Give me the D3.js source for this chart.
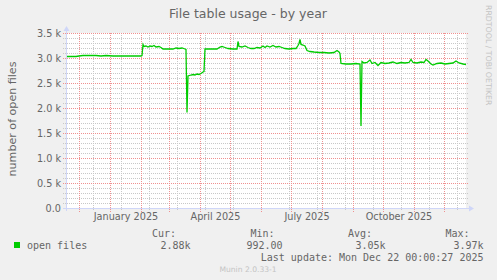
<!DOCTYPE html>
<html>
<head>
<meta charset="utf-8">
<script src="https://cdn.jsdelivr.net/npm/d3@7"></script>
<style>
  html, body { margin: 0; padding: 0; background: #f0f0f0; }
  svg { display: block; }
  text { font-family: "DejaVu Sans", sans-serif; fill: #666666; }
  .mono { font-family: "DejaVu Sans Mono", monospace; font-size: 10px; }
</style>
</head>
<body>
<div id="chart"></div>
<script>
// open files, sampled off the munin yearly graph
const dates = [
  "2024-11-18", "2024-11-27", "2024-11-30", "2024-12-04", "2024-12-12", "2024-12-17", "2024-12-22", "2024-12-27",
  "2025-01-03", "2025-01-11", "2025-01-21", "2025-01-31", "2025-02-01", "2025-02-02", "2025-02-03", "2025-02-05",
  "2025-02-07", "2025-02-09", "2025-02-11", "2025-02-13", "2025-02-15", "2025-02-18", "2025-02-20", "2025-02-22",
  "2025-02-28", "2025-03-04", "2025-03-07", "2025-03-10", "2025-03-13", "2025-03-16", "2025-03-17", "2025-03-18",
  "2025-03-19", "2025-03-22", "2025-03-24", "2025-03-26", "2025-03-28", "2025-03-30", "2025-04-01", "2025-04-03",
  "2025-04-04", "2025-04-05", "2025-04-11", "2025-04-17", "2025-04-20", "2025-04-22", "2025-04-25", "2025-04-28",
  "2025-05-03", "2025-05-07", "2025-05-08", "2025-05-09", "2025-05-12", "2025-05-15", "2025-05-18", "2025-05-21",
  "2025-05-24", "2025-05-27", "2025-05-30", "2025-06-02", "2025-06-04", "2025-06-06", "2025-06-09", "2025-06-12",
  "2025-06-15", "2025-06-18", "2025-06-21", "2025-06-24", "2025-06-28", "2025-07-02", "2025-07-05", "2025-07-07",
  "2025-07-08", "2025-07-09", "2025-07-10", "2025-07-12", "2025-07-14", "2025-07-16", "2025-07-19", "2025-07-23",
  "2025-07-28", "2025-08-02", "2025-08-07", "2025-08-12", "2025-08-15", "2025-08-17", "2025-08-18", "2025-08-19",
  "2025-08-24", "2025-08-29", "2025-09-03", "2025-09-07", "2025-09-08", "2025-09-09", "2025-09-11", "2025-09-14",
  "2025-09-17", "2025-09-19", "2025-09-22", "2025-09-25", "2025-09-28", "2025-10-02", "2025-10-06", "2025-10-10",
  "2025-10-14", "2025-10-18", "2025-10-22", "2025-10-26", "2025-10-28", "2025-10-30", "2025-11-03", "2025-11-07",
  "2025-11-10", "2025-11-12", "2025-11-14", "2025-11-17", "2025-11-19", "2025-11-23", "2025-11-27", "2025-12-01",
  "2025-12-05", "2025-12-09", "2025-12-12", "2025-12-15", "2025-12-19", "2025-12-22"
];
const openFiles = [
  3040, 3040, 3050, 3060, 3060, 3060, 3050, 3060,
  3050, 3050, 3050, 3050, 3060, 3280, 3240, 3250,
  3230, 3250, 3240, 3260, 3230, 3240, 3220, 3190,
  3190, 3190, 3210, 3200, 3210, 3190, 3180, 1920,
  2650, 2670, 2680, 2670, 2690, 2680, 2700, 2730,
  2740, 3190, 3190, 3190, 3230, 3240, 3220, 3200,
  3190, 3190, 3340, 3240, 3230, 3250, 3220, 3200,
  3200, 3220, 3210, 3250, 3220, 3250, 3230, 3260,
  3230, 3240, 3220, 3200, 3190, 3200, 3200, 3260,
  3300, 3380, 3280, 3270, 3250, 3160, 3140, 3130,
  3120, 3120, 3110, 3120, 3160, 3130, 3100, 2900,
  2890, 2890, 2900, 2890, 1650, 2940, 2910, 2920,
  2970, 2900, 2920, 2860, 2920, 2900, 2910, 2930,
  2900, 2920, 2910, 2920, 2980, 2920, 2910, 2930,
  2920, 2980, 2950, 2890, 2870, 2900, 2910, 2890,
  2900, 2910, 2950, 2910, 2890, 2880
];

const yTickValues = [0, 500, 1000, 1500, 2000, 2500, 3000, 3500];
const yTickLabels = ["0.0", "0.5 k", "1.0 k", "1.5 k", "2.0 k", "2.5 k", "3.0 k", "3.5 k"];
const quarterMonths = ["2025-01-01", "2025-04-01", "2025-07-01", "2025-10-01"];
const legendHeads = ["Cur:", "Min:", "Avg:", "Max:"];
const legendValues = ["2.88k", "992.00", "3.05k", "3.97k"];

const width = 497, height = 280;
const startDate = new Date("2024-11-17T00:00:00Z");
const endDate = new Date("2025-12-22T00:00:00Z");
const parse = d3.utcParse("%Y-%m-%d");

const x = d3.scaleUtc().domain([startDate, endDate]).range([65.5, 465.5]);
const y = d3.scaleLinear().domain([0, 3500]).range([208.5, 33.5]);
const px = v => Math.floor(v) + 0.5;

const svg = d3.select('#chart').append('svg')
    .attr('width', width)
    .attr('height', height);

svg.append('rect').attr('width', width).attr('height', height).attr('fill', '#f0f0f0');

// canvas
svg.append('rect')
    .attr('x', 66).attr('y', 33)
    .attr('width', 400).attr('height', 175.5)
    .attr('fill', '#ffffff');

const grid = svg.append('g').attr('shape-rendering', 'crispEdges');

// minor horizontal grid (every 100)
grid.selectAll('.hminor')
    .data(d3.range(0, 3501, 100).filter(v => v % 500 !== 0))
    .join('line')
    .attr('x1', 63).attr('x2', 468)
    .attr('y1', d => px(y(d))).attr('y2', d => px(y(d)))
    .attr('stroke', '#c8c8c8').attr('stroke-dasharray', '1,1');

// minor vertical grid (every 4 weeks)
const minorDays = d3.range(0, 400, 28).map(d => d3.utcDay.offset(startDate, d)).slice(1);
grid.selectAll('.vminor')
    .data(minorDays)
    .join('line')
    .attr('x1', d => px(x(d))).attr('x2', d => px(x(d)))
    .attr('y1', 33).attr('y2', 210)
    .attr('stroke', '#c8c8c8').attr('stroke-dasharray', '1,1');

// major horizontal grid
grid.selectAll('.hmajor')
    .data(yTickValues.slice(1))
    .join('line')
    .attr('x1', 63).attr('x2', 468)
    .attr('y1', d => px(y(d))).attr('y2', d => px(y(d)))
    .attr('stroke', '#f09090').attr('stroke-dasharray', '1,1');

// major vertical grid (months)
grid.selectAll('.vmajor')
    .data(d3.utcMonth.range(startDate, endDate))
    .join('line')
    .attr('x1', d => px(x(d))).attr('x2', d => px(x(d)))
    .attr('y1', 33).attr('y2', 212)
    .attr('stroke', '#f09090').attr('stroke-dasharray', '1,1');

// axes
const axisColor = '#cfd6f8';
svg.append('line')
    .attr('x1', 63).attr('x2', 470).attr('y1', 208.5).attr('y2', 208.5)
    .attr('stroke', axisColor);
svg.append('line')
    .attr('x1', 66.5).attr('x2', 66.5).attr('y1', 211).attr('y2', 29)
    .attr('stroke', axisColor);
svg.append('path')
    .attr('d', 'M469,205.5 L474,208.5 L469,211.5 Z')
    .attr('fill', axisColor);
svg.append('path')
    .attr('d', 'M63.5,31 L66.5,26 L69.5,31 Z')
    .attr('fill', axisColor);

// y tick labels
svg.selectAll('.ylab')
    .data(yTickValues)
    .join('text')
    .attr('x', 61)
    .attr('y', d => y(d) + 3.5)
    .attr('text-anchor', 'end')
    .style('font-size', '9.7px')
    .text((d, i) => yTickLabels[i]);

// x labels, centred on their month
const fmtMonth = d3.utcFormat("%B %Y");
svg.selectAll('.xlab')
    .data(quarterMonths.map(parse))
    .join('text')
    .attr('x', d => (x(d) + x(d3.utcMonth.offset(d, 1))) / 2)
    .attr('y', 219.5)
    .attr('text-anchor', 'middle')
    .style('font-size', '9.7px')
    .text(d => fmtMonth(d));

// series
const line = d3.line()
    .x((d, i) => x(parse(d)) + 0.5)
    .y((d, i) => y(openFiles[i]));
svg.append('path')
    .attr('d', line(dates))
    .attr('fill', 'none')
    .attr('stroke', '#00cc00')
    .attr('stroke-width', 1.3)
    .attr('stroke-linejoin', 'miter');

// titles
svg.append('text')
    .attr('x', 248).attr('y', 17.5)
    .attr('text-anchor', 'middle')
    .style('font-size', '12.5px')
    .text('File table usage - by year');

svg.append('text')
    .attr('transform', 'translate(15.5,119) rotate(-90)')
    .attr('text-anchor', 'middle')
    .style('font-size', '11.1px')
    .text('number of open files');

svg.append('text')
    .attr('transform', 'translate(486,5) rotate(90)')
    .style('font-size', '7.8px')
    .style('fill', '#c4c4c4')
    .text('RRDTOOL / TOBI OETIKER');

// legend
const headRight = [176, 274.5, 372, 469.5];
const valueRight = [190.5, 282.5, 385.5, 483.5];
svg.selectAll('.lhead')
    .data(legendHeads)
    .join('text')
    .attr('class', 'mono')
    .attr('x', (d, i) => headRight[i])
    .attr('y', 237)
    .attr('text-anchor', 'end')
    .text(d => d);

svg.append('rect')
    .attr('x', 14).attr('y', 242)
    .attr('width', 6).attr('height', 6)
    .attr('fill', '#00cc00');
svg.append('text')
    .attr('class', 'mono')
    .attr('x', 27).attr('y', 248.5)
    .text('open files');

svg.selectAll('.lval')
    .data(legendValues)
    .join('text')
    .attr('class', 'mono')
    .attr('x', (d, i) => valueRight[i])
    .attr('y', 248.5)
    .attr('text-anchor', 'end')
    .text(d => d);

svg.append('text')
    .attr('class', 'mono')
    .attr('x', 483.5).attr('y', 260.5)
    .attr('text-anchor', 'end')
    .text('Last update: Mon Dec 22 00:00:27 2025');

svg.append('text')
    .attr('x', 248).attr('y', 271.5)
    .attr('text-anchor', 'middle')
    .style('font-size', '7.6px')
    .style('fill', '#c4c4c4')
    .text('Munin 2.0.33-1');
</script>
</body>
</html>
